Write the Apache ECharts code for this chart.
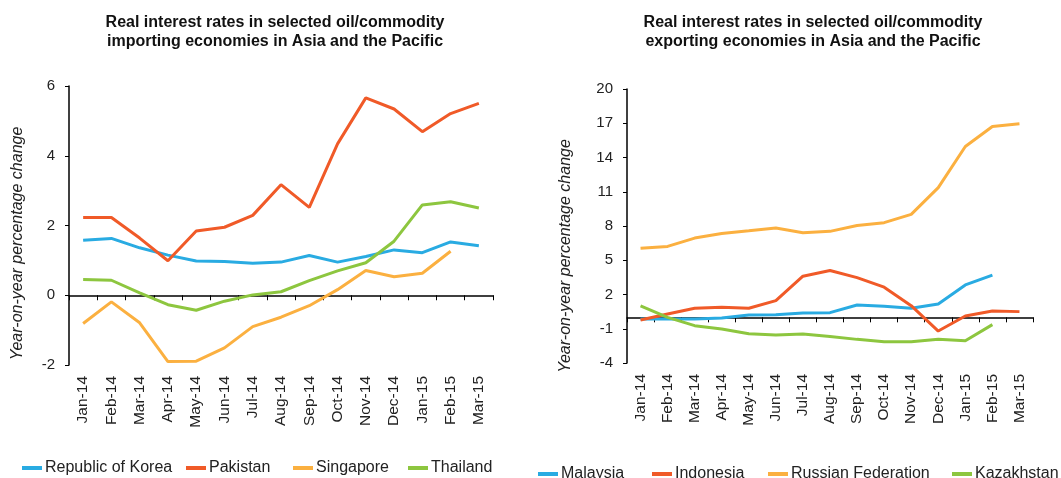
<!DOCTYPE html>
<html>
<head>
<meta charset="utf-8">
<script src="https://cdn.jsdelivr.net/npm/echarts@6/dist/echarts.min.js"></script>
<style>
  html, body { margin: 0; padding: 0; background: #fff; }
  #main { width: 1061px; height: 478px; }
</style>
</head>
<body>
<div id="main"></div>
<script>
// months, shared by both panels
var months = ["Jan-14","Feb-14","Mar-14","Apr-14","May-14","Jun-14","Jul-14","Aug-14",
              "Sep-14","Oct-14","Nov-14","Dec-14","Jan-15","Feb-15","Mar-15"];

// importing economies
var korea     = [1.58,1.63,1.36,1.15,0.98,0.97,0.92,0.95,1.14,0.95,1.11,1.30,1.22,1.53,1.42];
var pakistan  = [2.23,2.23,1.64,0.99,1.84,1.95,2.29,3.17,2.52,4.34,5.66,5.34,4.69,5.21,5.50];
var singapore = [-0.81,-0.19,-0.79,-1.90,-1.89,-1.51,-0.90,-0.63,-0.30,0.16,0.71,0.53,0.63,1.26,null];
var thailand  = [0.45,0.43,0.07,-0.27,-0.43,-0.17,0.01,0.10,0.42,0.70,0.93,1.55,2.59,2.68,2.50];

// exporting economies
var malaysia   = [-0.15,-0.15,-0.15,-0.06,0.20,0.23,0.38,0.41,1.08,0.97,0.79,1.17,2.84,3.69,null];
var indonesia  = [-0.23,0.29,0.79,0.88,0.79,1.46,3.60,4.10,3.48,2.64,1.02,-1.20,0.12,0.56,0.50];
var russia     = [6.06,6.21,6.94,7.35,7.58,7.82,7.41,7.53,8.05,8.29,9.02,11.36,14.96,16.72,16.95];
var kazakhstan = [1.00,0.00,-0.73,-1.02,-1.43,-1.55,-1.46,-1.67,-1.93,-2.14,-2.14,-1.93,-2.05,-0.64,null];

var blue = "#29abe2", red = "#f05a28", yellow = "#fbb040", green = "#8dc63f";
var font = "Liberation Sans, Arial, sans-serif";

var myChart = echarts.init(document.getElementById("main"));

// x axis with labels at the bottom, and a second one drawn through zero
function xLabels(grid){
    return {
        type : "category", gridIndex : grid, data : months, boundaryGap : true, position : "bottom",
        axisLine : {show : false, onZero : false}, axisTick : {show : false},
        axisLabel : {rotate : 90, margin : 11, color : "#222", fontSize : 15.5, fontFamily : font, interval : 0}
    };
}
function xZero(grid){
    return {
        type : "category", gridIndex : grid, data : months, boundaryGap : true, position : "bottom",
        axisLine : {onZero : true, onZeroAxisIndex : grid, lineStyle : {color : "#000", width : 1.5}},
        axisTick : {show : true, length : 5, interval : 0, lineStyle : {color : "#000"}},
        axisLabel : {show : false}
    };
}
// shift : pushes the rotated name down along the axis
function yAx(grid, min, max, step, gap, shift){
    return {
        type : "value", gridIndex : grid, min : min, max : max, interval : step,
        name : "Year-on-year percentage change", nameLocation : "middle", nameGap : gap,
        nameTextStyle : {fontStyle : "italic", fontSize : 16, color : "#222", fontFamily : font,
                         padding : [0, shift, 0, 0]},
        splitLine : {show : false},
        axisLine : {show : true, onZero : false, lineStyle : {color : "#000", width : 1.5}},
        axisTick : {show : true, length : 4, lineStyle : {color : "#000"}},
        axisLabel : {fontSize : 15, color : "#222", fontFamily : font, margin : 14}
    };
}
function line(name, data, color, x, y){
    return {
        name : name, type : "line", data : data, xAxisIndex : x, yAxisIndex : y,
        symbol : "none", lineStyle : {width : 3, color : color}, itemStyle : {color : color},
        animation : false
    };
}
function legendItem(name, left, top){
    return {
        data : [name], left : left, top : top,
        icon : "rect", itemWidth : 20, itemHeight : 4, itemGap : 0, padding : 0,
        textStyle : {fontSize : 16, color : "#222", fontFamily : font, padding : [0, 0, 0, -2]}
    };
}

var option = {
    animation : false,
    title : [
        {text : "Real interest rates in selected oil/commodity\nimporting economies in Asia and the Pacific",
         left : 270, top : 8, textAlign : "center",
         textStyle : {fontSize : 16, fontWeight : "bold", color : "#111", fontFamily : font, lineHeight : 19}},
        {text : "Real interest rates in selected oil/commodity\nexporting economies in Asia and the Pacific",
         left : 808, top : 8, textAlign : "center",
         textStyle : {fontSize : 16, fontWeight : "bold", color : "#111", fontFamily : font, lineHeight : 19}}
    ],
    legend : [
        legendItem("Republic of Korea", 22, 460),
        legendItem("Pakistan", 186, 460),
        legendItem("Singapore", 293, 460),
        legendItem("Thailand", 408, 460),
        legendItem("Malaysia", 538, 466),
        legendItem("Indonesia", 652, 466),
        legendItem("Russian Federation", 768, 466),
        legendItem("Kazakhstan", 952, 466)
    ],
    grid : [
        {left : 69, top : 86, width : 424, height : 279},
        {left : 627, top : 89, width : 406, height : 274}
    ],
    xAxis : [xLabels(0), xZero(0), xLabels(1), xZero(1)],
    yAxis : [yAx(0, -2, 6, 2, 43, 36), yAx(1, -4, 20, 3, 53, 60)],
    series : [
        line("Republic of Korea", korea, blue, 0, 0),
        line("Pakistan", pakistan, red, 0, 0),
        line("Singapore", singapore, yellow, 0, 0),
        line("Thailand", thailand, green, 0, 0),
        line("Malaysia", malaysia, blue, 2, 1),
        line("Indonesia", indonesia, red, 2, 1),
        line("Russian Federation", russia, yellow, 2, 1),
        line("Kazakhstan", kazakhstan, green, 2, 1)
    ]
};

myChart.setOption(option);
</script>
</body>
</html>
